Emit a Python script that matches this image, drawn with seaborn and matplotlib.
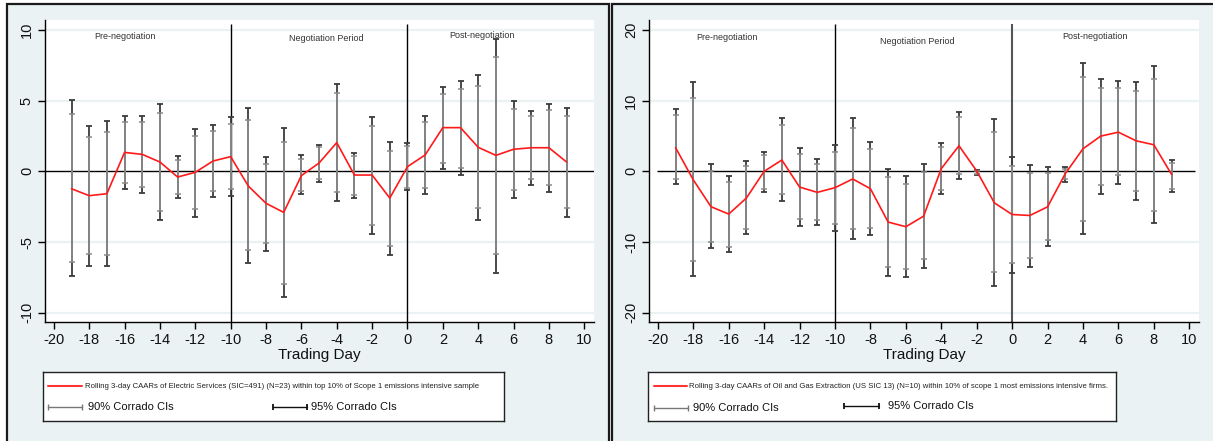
import numpy as np
import pandas as pd
import matplotlib
matplotlib.use("Agg")
import matplotlib.pyplot as plt
from matplotlib.patches import Rectangle
from matplotlib.lines import Line2D
import seaborn as sns

# Event window (trading days relative to the event)
days = list(range(-19, 10))

# Electric Services (SIC=491), N=23
elec_caar = [-1.23, -1.72, -1.58, 1.34, 1.20, 0.66, -0.40, -0.07, 0.73, 1.04,
             -1.04, -2.26, -2.90, -0.30, 0.59, 2.03, -0.26, -0.26, -1.89, 0.33,
             1.16, 3.09, 3.09, 1.70, 1.13, 1.56, 1.67, 1.67, 0.66]
elec_lo95 = [-7.40, -6.67, -6.72, -1.25, -1.56, -3.44, -1.89, -3.20, -1.79, -1.75,
             -6.49, -5.61, -8.89, -1.58, -0.73, -2.12, -1.89, -4.43, -5.94, -1.34,
             -1.58, 0.14, -0.28, -3.44, -7.19, -1.86, -0.97, -1.44, -3.20]
elec_hi95 = [5.02, 3.21, 3.56, 3.89, 3.94, 4.76, 1.08, 3.02, 3.28, 3.82,
             4.48, 1.01, 3.04, 1.13, 1.89, 6.20, 1.32, 3.87, 2.08, 2.03,
             3.92, 5.97, 6.42, 6.84, 9.39, 5.00, 4.29, 4.76, 4.50]
elec_lo90 = [-6.42, -5.85, -5.92, -0.80, -1.11, -2.78, -1.63, -2.69, -1.37, -1.27,
             -5.57, -5.09, -7.95, -1.37, -0.57, -1.46, -1.65, -3.77, -5.31, -1.16,
             -1.16, 0.61, 0.21, -2.62, -5.85, -1.30, -0.54, -0.94, -2.57]
elec_hi90 = [4.03, 2.45, 2.76, 3.49, 3.49, 4.10, 0.80, 2.52, 2.88, 3.37,
             3.61, 0.50, 2.10, 0.87, 1.70, 5.57, 1.08, 3.23, 1.44, 1.79,
             3.49, 5.50, 5.85, 6.01, 8.07, 4.43, 3.89, 4.34, 3.89]

# Oil and Gas Extraction (US SIC 13), N=10
oil_caar = [3.35, -1.20, -5.00, -6.04, -3.77, 0.00, 1.60, -2.22, -2.97, -2.31,
            -1.08, -2.45, -7.17, -7.83, -6.34, 0.38, 3.62, 0.05, -4.46, -6.10,
            -6.24, -5.02, -0.33, 3.19, 4.98, 5.54, 4.32, 3.76, -0.42]
oil_lo95 = [-1.84, -14.86, -10.90, -11.46, -8.92, -2.97, -4.25, -7.69, -7.64, -8.40,
            -9.58, -9.06, -14.76, -15.00, -13.60, -3.24, -1.08, -0.47, -16.20, -14.37,
            -13.47, -10.60, -1.46, -8.92, -3.15, -1.74, -4.08, -7.28, -2.86]
oil_hi95 = [8.77, 12.64, 0.99, -0.71, 1.51, 2.69, 7.50, 3.25, 1.70, 3.73,
            7.55, 4.20, 0.33, -0.61, 1.08, 4.04, 8.45, 0.19, 7.42, 2.07,
            0.94, 0.61, 0.66, 15.26, 13.10, 12.82, 12.68, 14.84, 1.55]
oil_lo90 = [-1.04, -12.69, -9.95, -10.66, -8.11, -2.55, -3.25, -6.79, -6.89, -7.45,
            -8.21, -7.97, -13.49, -13.82, -12.40, -2.68, -0.42, -0.33, -14.30, -13.00,
            -12.30, -9.72, -1.13, -6.95, -1.88, -0.56, -2.77, -5.54, -2.54]
oil_hi90 = [7.92, 10.42, 0.00, -1.56, 0.71, 2.26, 6.60, 2.41, 1.04, 2.74,
            6.18, 3.11, -0.85, -1.75, -0.05, 3.43, 7.70, 0.09, 5.54, 0.75,
            -0.19, -0.28, 0.38, 13.33, 11.83, 11.74, 11.41, 13.05, 1.22]

x_ticks = list(range(-20, 11, 2))
elec_yticks = [-10, -5, 0, 5, 10]
oil_yticks = [-20, -10, 0, 10, 20]
period_labels = ["Pre-negotiation", "Negotiation Period", "Post-negotiation"]
period_breaks = [-10, 0]

elec_label = ("Rolling 3-day CAARs of Electric Services (SIC=491) (N=23) "
              "within top 10% of Scope 1 emissions intensive sample")
oil_label = ("Rolling 3-day CAARs of Oil and Gas Extraction (US SIC 13) (N=10) "
             "within 10% of scope 1 most emissions intensive firms.")
ci90_label = "90% Corrado CIs"
ci95_label = "95% Corrado CIs"

sns.set_theme(style="white")
plt.rcParams["font.family"] = ["Liberation Sans", "DejaVu Sans"]
plt.rcParams["axes.unicode_minus"] = False

BG = "#eaf2f3"
W, H = 1213, 441
fig = plt.figure(figsize=(W / 100, H / 100), dpi=100)
fig.patch.set_facecolor("white")


def fx(px):
    return px / W


def fy(py):
    return 1 - py / H


# panel backgrounds with dark frames
for x0, x1 in [(7, 609), (612, 1216)]:
    fig.add_artist(Rectangle((fx(x0), fy(445)), fx(x1 - x0), (445 - 4) / H,
                             transform=fig.transFigure, facecolor=BG,
                             edgecolor="#1a1a1a", linewidth=1.6, zorder=-10))


def draw_panel(ax, df, yticks, ylim, hline_span, vline_top, vcolors, vwidths,
               text_pos):
    ax.set_facecolor("white")
    for s in ["top", "right"]:
        ax.spines[s].set_visible(False)
    for s in ["left", "bottom"]:
        ax.spines[s].set_color("black")
        ax.spines[s].set_linewidth(1.0)
    ax.set_xlim(-20.5, 10.55)
    ax.set_ylim(*ylim)
    ax.set_xticks(x_ticks)
    ax.set_yticks(yticks)
    ax.tick_params(axis="both", which="both", direction="out", length=5,
                   width=1.0, color="black", labelsize=10.5, labelcolor="#111111",
                   left=True, bottom=True)
    ax.tick_params(axis="x", pad=3)
    ax.tick_params(axis="y", pad=3, labelrotation=90)
    for lab in ax.get_yticklabels():
        lab.set_va("center")
    for yt in yticks:
        if yt != 0:
            ax.axhline(yt, color=BG, lw=1.6, zorder=0)

    ax.hlines(0, hline_span[0], hline_span[1], color="black", lw=1.0, zorder=2)
    for xb, c, lw in zip(period_breaks, vcolors, vwidths):
        ax.vlines(xb, ylim[0], vline_top, color=c, lw=lw, zorder=2)

    # 95% intervals (dark) under the 90% intervals (grey)
    mid95 = (df["lo95"] + df["hi95"]) / 2
    ax.errorbar(df["day"], mid95, yerr=[mid95 - df["lo95"], df["hi95"] - mid95],
                fmt="none", ecolor="#3c3c3c", elinewidth=1.3, capsize=2.0,
                capthick=1.3, zorder=3)
    mid90 = (df["lo90"] + df["hi90"]) / 2
    ax.errorbar(df["day"], mid90, yerr=[mid90 - df["lo90"], df["hi90"] - mid90],
                fmt="none", ecolor="#8a8a8a", elinewidth=1.3, capsize=2.0,
                capthick=1.1, zorder=4)

    sns.lineplot(data=df, x="day", y="caar", color="#ff1a1a", lw=1.2, ax=ax,
                 zorder=5, legend=False)
    ax.set_xlabel("Trading Day", fontsize=11, color="#111111", labelpad=1)
    ax.set_ylabel("")

    for lab, (tx, ty) in zip(period_labels, text_pos):
        ax.text(tx, ty, lab, fontsize=6.5, color="#333333", ha="center",
                va="center", zorder=6)


def draw_legend(rect, line_label, red_x, row1_y, ci90_x, ci95_x, row2_y, row2b_y):
    lax = fig.add_axes(rect)
    lax.set_xlim(0, 1)
    lax.set_ylim(0, 1)
    lax.set_xticks([])
    lax.set_yticks([])
    lax.set_facecolor("white")
    for s in lax.spines.values():
        s.set_color("#222222")
        s.set_linewidth(1.0)
    lax.add_line(Line2D(red_x[:2], [row1_y, row1_y], color="#ff3333", lw=1.5))
    lax.text(red_x[2], row1_y, line_label, fontsize=5.58, color="#222222",
             ha="left", va="center")
    lax.plot(ci90_x[:2], [row2_y, row2_y], color="#777777", lw=1.0,
             marker="|", ms=5, mew=1.0)
    lax.text(ci90_x[2], row2_y, ci90_label, fontsize=8.0, color="#111111",
             ha="left", va="center")
    lax.plot(ci95_x[:2], [row2b_y, row2b_y], color="#111111", lw=1.0,
             marker="|", ms=5, mew=1.3)
    lax.text(ci95_x[2], row2b_y, ci95_label, fontsize=8.0, color="#111111",
             ha="left", va="center")


elec = pd.DataFrame({"day": days, "caar": elec_caar, "lo95": elec_lo95,
                     "hi95": elec_hi95, "lo90": elec_lo90, "hi90": elec_hi90})
oil = pd.DataFrame({"day": days, "caar": oil_caar, "lo95": oil_lo95,
                    "hi95": oil_hi95, "lo90": oil_lo90, "hi90": oil_hi90})

ax1 = fig.add_axes([fx(45), fy(322), fx(594 - 45), (322 - 20) / H])
draw_panel(ax1, elec, elec_yticks, (-10.65, 10.7), (-20.5, 10.55), 10.45,
           ["black", "black"], [1.0, 1.0],
           [(-16.0, 9.5), (-4.6, 9.4), (4.2, 9.6)])

ax2 = fig.add_axes([fx(649), fy(322), fx(1199 - 649), (322 - 20) / H])
draw_panel(ax2, oil, oil_yticks, (-21.3, 21.4), (-20.05, 10.3), 20.9,
           ["black", "#555555"], [1.0, 1.5],
           [(-16.1, 18.9), (-5.35, 18.4), (4.7, 19.0)])

draw_legend([fx(43), fy(421), fx(504 - 43), 49 / H], elec_label,
            (0.011, 0.085, 0.091), 0.714,
            (0.011, 0.085, 0.098), (0.499, 0.573, 0.581), 0.286, 0.286)
draw_legend([fx(648), fy(421), fx(1116 - 648), 49 / H], oil_label,
            (0.013, 0.083, 0.0876), 0.714,
            (0.013, 0.085, 0.096), (0.419, 0.494, 0.513), 0.265, 0.306)

fig.savefig("out.png", dpi=100, facecolor="white")
